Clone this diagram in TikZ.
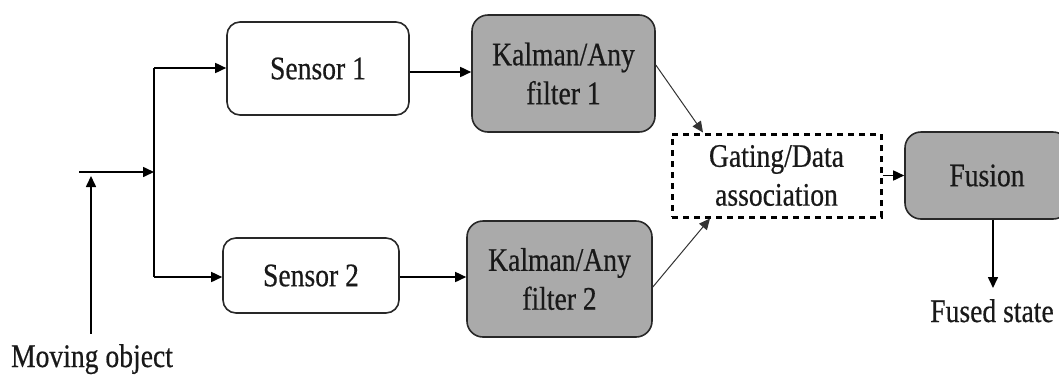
\documentclass[tikz,border=0pt]{standalone}
\usepackage{fontspec}
\setmainfont{Liberation Serif}[FakeStretch=0.84,FakeBold=0.5]
\usetikzlibrary{arrows.meta}
\definecolor{boxfill}{RGB}{170,170,170}
\definecolor{edge}{RGB}{40,40,40}
\definecolor{ink}{RGB}{25,25,25}
\tikzset{
  lbl/.style={font=\fontsize{33}{39}\selectfont, text=ink, align=center, inner sep=0pt},
  sensorbox/.style={lbl, draw=edge, line width=1.6bp, rounded corners=13bp, fill=white},
  filterbox/.style={lbl, draw=edge, line width=1.6bp, rounded corners=16bp, fill=boxfill},
  gatebox/.style={lbl, draw=black, line width=3bp, dash pattern=on 6bp off 5bp},
  flow/.style={draw=black, line width=1.6bp, -{Triangle[length=11bp,width=10bp]}},
  thinflow/.style={draw=black!80, line width=1bp, -{Triangle[length=11bp,width=10bp]}},
  plain/.style={draw=black, line width=1.6bp}
}
\begin{document}
\begin{tikzpicture}[x=1bp,y=-1bp]
  \clip (0,0) rectangle (1059,376);
  \useasboundingbox (0,0) rectangle (1059,376);

  % blocks
  \node[sensorbox, minimum width=182bp, minimum height=93bp] (s1) at (318,68.5) {Sensor 1};
  \node[sensorbox, minimum width=176bp, minimum height=75bp] (s2) at (311,275.5) {Sensor 2};
  \node[filterbox, minimum width=183bp, minimum height=117bp] (f1) at (563.5,73.5) {Kalman/Any\\filter 1};
  \node[filterbox, minimum width=185bp, minimum height=116bp] (f2) at (559.5,279) {Kalman/Any\\filter 2};
  \node[gatebox, minimum width=209bp, minimum height=83bp] (gate) at (776.5,175.5) {Gating/Data\\association};
  \node[filterbox, minimum width=164bp, minimum height=87bp] (fus) at (987,175.5) {Fusion};

  % free labels
  \node[lbl, anchor=base] (mov) at (92,367) {Moving object};
  \node[lbl, anchor=base] (fst) at (992,322) {Fused state};

  % input and branching point
  \coordinate (in) at (79,172);
  \coordinate (jn) at (154,172);
  \coordinate (jtop) at (154,68);
  \coordinate (jbot) at (154,277);
  \coordinate (up) at (91,176);
  \coordinate (fout) at (993,288);

  \draw[flow] (in) -- (jn);
  \draw[flow] (mov.north -| up) ++(0,-10) -- (up);
  \draw[plain] (jtop) -- (jbot);
  \draw[flow] (jtop) -- (s1.west |- jtop);
  \draw[flow] (jbot) -- (s2.west |- jbot);

  % sensors to filters
  \draw[flow] (s1.east |- 0,72) -- (f1.west |- 0,72);
  \draw[flow] (s2.east |- 0,277) -- (f2.west |- 0,277);

  % filters to gating
  \draw[thinflow] (f1.east |- 0,65) -- (gate.north west -| 703,0);
  \draw[thinflow] (f2.east |- 0,287) -- (gate.south west -| 710,0);

  % gating to fusion, fusion to output
  \draw[flow] (gate.east) -- (fus.west |- gate.east);
  \draw[flow] (fus.south -| fout) -- (fout);
\end{tikzpicture}
\end{document}
